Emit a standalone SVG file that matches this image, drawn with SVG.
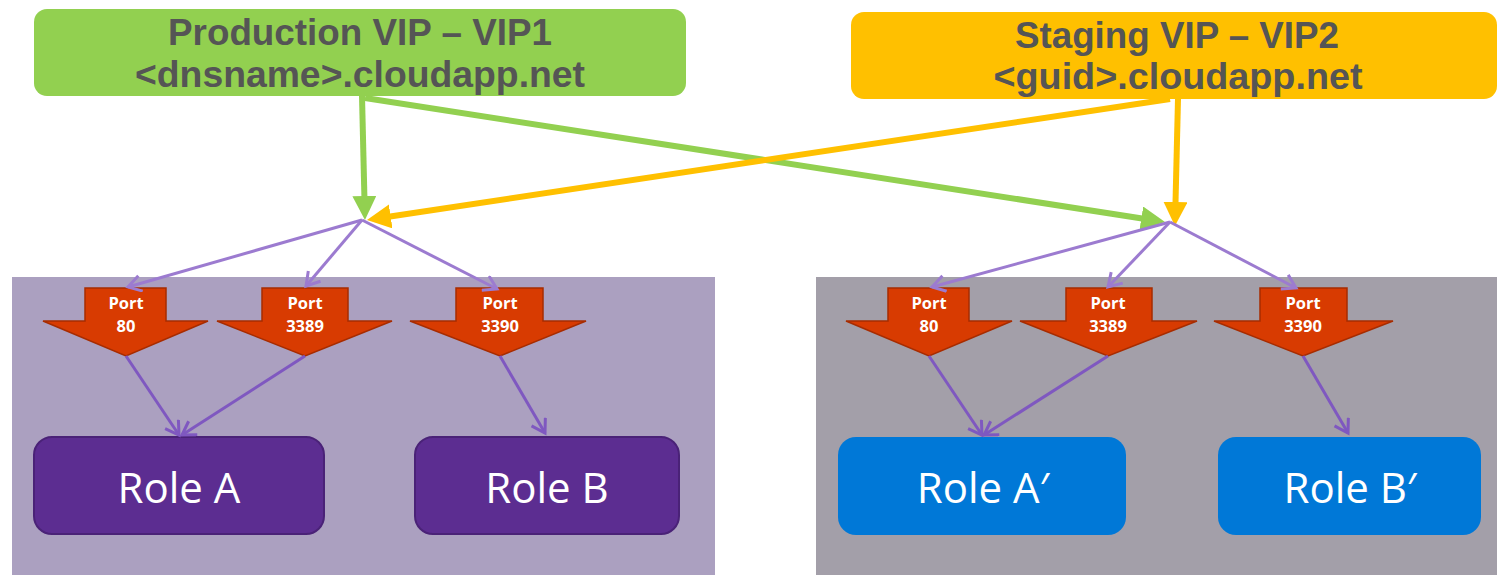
<svg xmlns="http://www.w3.org/2000/svg" width="1497" height="575" viewBox="0 0 1497 575">
  <style>
    .vip-text { font-family: "Liberation Sans", "Open Sans", sans-serif; font-weight: 700; font-size: 36px; fill: #555555; text-anchor: middle; }
    .port { fill: #D83B01; stroke: #A72C00; stroke-width: 1.5; }
    .port-text { font-family: "Open Sans", "Liberation Sans", sans-serif; font-weight: 700; font-size: 16.5px; fill: #FFFFFF; text-anchor: middle; }
    .role-text { font-family: "Open Sans", "Liberation Sans", sans-serif; font-weight: 400; font-size: 42px; fill: #FFFFFF; text-anchor: middle; }
    .green { stroke: #92D050; stroke-width: 6; fill: none; }
    .amber { stroke: #FFC000; stroke-width: 6; fill: none; }
    .fan { stroke: #9C7BD0; stroke-width: 3; fill: none; marker-end: url(#vee); }
    .feed { stroke: #7F58C0; stroke-width: 3; fill: none; marker-end: url(#vee-dark); }
  </style>
  <defs>
    <marker id="tri-green" markerUnits="userSpaceOnUse" markerWidth="26" markerHeight="26" refX="9" refY="12" orient="auto">
      <path d="M0,0 L24,12 L0,24 z" fill="#92D050"/>
    </marker>
    <marker id="tri-amber" markerUnits="userSpaceOnUse" markerWidth="26" markerHeight="26" refX="9" refY="12" orient="auto">
      <path d="M0,0 L24,12 L0,24 z" fill="#FFC000"/>
    </marker>
    <marker id="vee" markerUnits="userSpaceOnUse" markerWidth="18" markerHeight="20" refX="14" refY="9" orient="auto">
      <path d="M1,1 L14,9 L1,17" fill="none" stroke="#9C7BD0" stroke-width="3"/>
    </marker>
    <marker id="vee-dark" markerUnits="userSpaceOnUse" markerWidth="18" markerHeight="20" refX="14" refY="9" orient="auto">
      <path d="M1,1 L14,9 L1,17" fill="none" stroke="#7F58C0" stroke-width="3"/>
    </marker>
  </defs>

  <rect width="1497" height="575" fill="#FFFFFF"/>

  <!-- deployment panels -->
  <g id="production-panel">
    <rect x="12" y="277" width="703" height="298" fill="#ABA0C0"/>
  </g>
  <g id="staging-panel">
    <rect x="816" y="277" width="681" height="298" fill="#A39FA9"/>
  </g>

  <!-- virtual IPs -->
  <g id="vip1">
    <rect x="34" y="9" width="652" height="87" rx="13" fill="#92D050"/>
    <text class="vip-text" x="360" y="45" textLength="384" lengthAdjust="spacingAndGlyphs">Production VIP – VIP1</text>
    <text class="vip-text" x="360" y="87" textLength="450" lengthAdjust="spacingAndGlyphs">&lt;dnsname&gt;.cloudapp.net</text>
  </g>
  <g id="vip2">
    <rect x="851" y="12" width="646" height="87" rx="13" fill="#FFC000"/>
    <text class="vip-text" x="1177" y="48" textLength="324" lengthAdjust="spacingAndGlyphs">Staging VIP – VIP2</text>
    <text class="vip-text" x="1178" y="89" textLength="369" lengthAdjust="spacingAndGlyphs">&lt;guid&gt;.cloudapp.net</text>
  </g>

  <!-- load-balanced ports, production -->
  <g id="prod-port-80">
    <path class="port" d="M85,288 H166 V321 H208 L126,356 L43,321 H85 Z"/>
    <text class="port-text" x="126" y="309">Port</text>
    <text class="port-text" x="126" y="332">80</text>
  </g>
  <g id="prod-port-3389">
    <path class="port" d="M262,288 H348 V321 H392 L305,356 L217,321 H262 Z"/>
    <text class="port-text" x="305" y="309">Port</text>
    <text class="port-text" x="305" y="332">3389</text>
  </g>
  <g id="prod-port-3390">
    <path class="port" d="M456,288 H543 V321 H586 L500,356 L410,321 H456 Z"/>
    <text class="port-text" x="500" y="309">Port</text>
    <text class="port-text" x="500" y="332">3390</text>
  </g>

  <!-- load-balanced ports, staging -->
  <g id="stage-port-80">
    <path class="port" d="M888,288 H969 V321 H1012 L929,356 L846,321 H888 Z"/>
    <text class="port-text" x="929" y="309">Port</text>
    <text class="port-text" x="929" y="332">80</text>
  </g>
  <g id="stage-port-3389">
    <path class="port" d="M1066,288 H1152 V321 H1197 L1108,356 L1020,321 H1066 Z"/>
    <text class="port-text" x="1108" y="309">Port</text>
    <text class="port-text" x="1108" y="332">3389</text>
  </g>
  <g id="stage-port-3390">
    <path class="port" d="M1260,288 H1347 V321 H1393 L1303,356 L1214,321 H1260 Z"/>
    <text class="port-text" x="1303" y="309">Port</text>
    <text class="port-text" x="1303" y="332">3390</text>
  </g>

  <!-- role instances -->
  <g id="role-a">
    <rect x="34" y="437" width="290" height="97" rx="18" fill="#5C2D91" stroke="#4A2277" stroke-width="2"/>
    <text class="role-text" x="179" y="503">Role A</text>
  </g>
  <g id="role-b">
    <rect x="415" y="437" width="264" height="97" rx="18" fill="#5C2D91" stroke="#4A2277" stroke-width="2"/>
    <text class="role-text" x="547" y="503">Role B</text>
  </g>
  <g id="role-a-prime">
    <rect x="838" y="437" width="288" height="98" rx="18" fill="#0078D7"/>
    <text class="role-text" x="983" y="503">Role A′</text>
  </g>
  <g id="role-b-prime">
    <rect x="1218" y="437" width="263" height="98" rx="18" fill="#0078D7"/>
    <text class="role-text" x="1350" y="503">Role B′</text>
  </g>

  <!-- connectors -->
  <g id="connectors">
    <!-- VIP routing -->
    <line class="green" x1="362" y1="96" x2="364.6" y2="205" marker-end="url(#tri-green)"/>
    <line class="green" x1="365" y1="98" x2="1150.2" y2="219.7" marker-end="url(#tri-green)"/>
    <line class="amber" x1="1170" y1="99" x2="381.8" y2="217.8" marker-end="url(#tri-amber)"/>
    <line class="amber" x1="1178" y1="99" x2="1175.3" y2="211" marker-end="url(#tri-amber)"/>

    <!-- hub to ports, production -->
    <line class="fan" x1="362" y1="220" x2="128" y2="287"/>
    <line class="fan" x1="362" y1="220" x2="306" y2="286"/>
    <line class="fan" x1="362" y1="220" x2="497" y2="289"/>
    <!-- hub to ports, staging -->
    <line class="fan" x1="1170" y1="222" x2="932" y2="287"/>
    <line class="fan" x1="1170" y1="222" x2="1108" y2="287"/>
    <line class="fan" x1="1170" y1="222" x2="1296" y2="288"/>

    <!-- ports to roles -->
    <line class="feed" x1="126" y1="356" x2="179" y2="435"/>
    <line class="feed" x1="305" y1="356" x2="182" y2="435"/>
    <line class="feed" x1="500" y1="356" x2="545" y2="433"/>
    <line class="feed" x1="929" y1="356" x2="982" y2="435"/>
    <line class="feed" x1="1108" y1="356" x2="984" y2="435"/>
    <line class="feed" x1="1303" y1="356" x2="1348" y2="433"/>
  </g>
</svg>
